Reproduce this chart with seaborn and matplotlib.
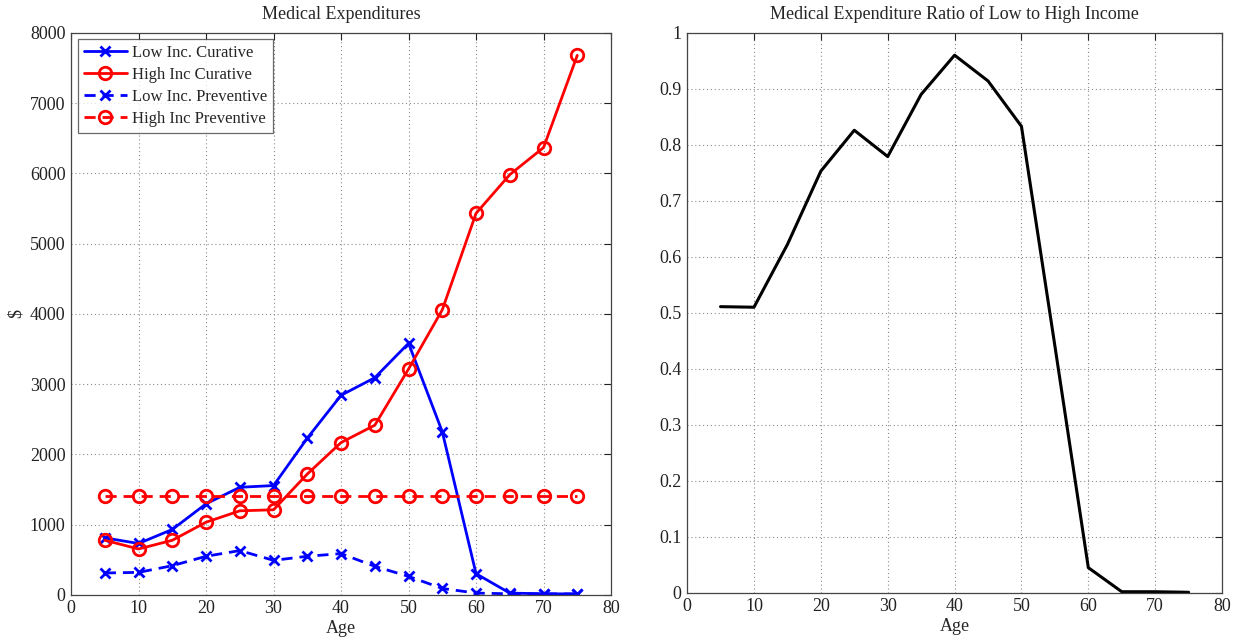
import numpy as np
import pandas as pd
import matplotlib
matplotlib.use("Agg")
import matplotlib.pyplot as plt
import seaborn as sns

# Age groups (years)
age = [5, 10, 15, 20, 25, 30, 35, 40, 45, 50, 55, 60, 65, 70, 75]

# Medical expenditures in dollars
low_curative = [810, 730, 930, 1295, 1530, 1555, 2230, 2840, 3090, 3580, 2320, 300, 24, 14, 12]
high_curative = [776, 652, 776, 1033, 1195, 1210, 1719, 2167, 2414, 3214, 4057, 5430, 5981, 6366, 7679]
low_preventive = [310, 319, 414, 548, 629, 490, 548, 586, 405, 262, 90, 24, 14, 12, 12]
high_preventive = [1405] * 15

# Ratio of low- to high-income total expenditure
ratio = [0.511, 0.510, 0.622, 0.753, 0.826, 0.779, 0.890, 0.960, 0.914, 0.833, 0.441, 0.045, 0.002, 0.002, 0.001]

names = ["Low Inc. Curative", "High Inc Curative", "Low Inc. Preventive", "High Inc Preventive"]
values = [low_curative, high_curative, low_preventive, high_preventive]
colors = ["#0000ff", "#ff0000", "#0000ff", "#ff0000"]
marks = ["x", "o", "x", "o"]
dashed = [False, False, True, True]

sns.set_style("white")
plt.rcParams["font.family"] = ["Liberation Serif", "DejaVu Serif"]

fig = plt.figure(figsize=(12.47, 6.43), dpi=100)
ax1 = fig.add_axes([0.057, 0.075, 0.433, 0.874])
ax2 = fig.add_axes([0.551, 0.078, 0.429, 0.871])

handles = []
for n, v, c, m, d in zip(names, values, colors, marks, dashed):
    before = len(ax1.get_lines())
    sns.lineplot(x=age, y=v, ax=ax1, color=c, linewidth=2.0, legend=False)
    line = ax1.get_lines()[before]
    line.set_marker(m)
    line.set_markeredgecolor(c)
    line.set_markeredgewidth(2)
    if m == "o":
        line.set_markerfacecolor("none")
        line.set_markersize(9)
    else:
        line.set_markersize(7)
    if d:
        line.set_linestyle((0, (4, 2.5)))
    else:
        line.set_linestyle("-")
    line.set_label(n)
    handles.append(line)

sns.lineplot(x=age, y=ratio, ax=ax2, color="black", linewidth=2.2)

for ax in (ax1, ax2):
    ax.set_xlim(0, 80)
    ax.set_xticks(range(0, 81, 10))
    ax.grid(True, linestyle=(0, (1, 2.5)), color="#8a8a8a", linewidth=0.8)
    ax.tick_params(direction="in", length=5, width=0.8, top=True, right=True,
                   labelsize=13, colors="#222222", pad=4)
    for s in ax.spines.values():
        s.set_color("#444444")
        s.set_linewidth(0.9)
    ax.set_xlabel("Age", fontsize=13, labelpad=2)

ax1.set_ylim(0, 8000)
ax1.set_yticks(range(0, 8001, 1000))
ax1.set_ylabel("$", fontsize=13, labelpad=4)
ax1.set_title("Medical Expenditures", fontsize=13, pad=10)

ax2.set_ylim(0, 1)
ax2.set_yticks(np.round(np.arange(0, 1.01, 0.1), 1))
ax2.set_yticklabels(["0"] + [f"{v:.1f}" for v in np.arange(0.1, 0.95, 0.1)] + ["1"])
ax2.set_ylabel("")
ax2.set_title("Medical Expenditure Ratio of Low to High Income", fontsize=13, pad=10)

leg = ax1.legend(handles=handles, labels=names, loc="upper left", fontsize=12,
                 frameon=True, fancybox=False, borderpad=0.35, labelspacing=0.35,
                 handlelength=2.6, handletextpad=0.3, borderaxespad=0.4)
leg.get_frame().set_edgecolor("#444444")
leg.get_frame().set_linewidth(0.9)

fig.savefig("out.png", dpi=100)
